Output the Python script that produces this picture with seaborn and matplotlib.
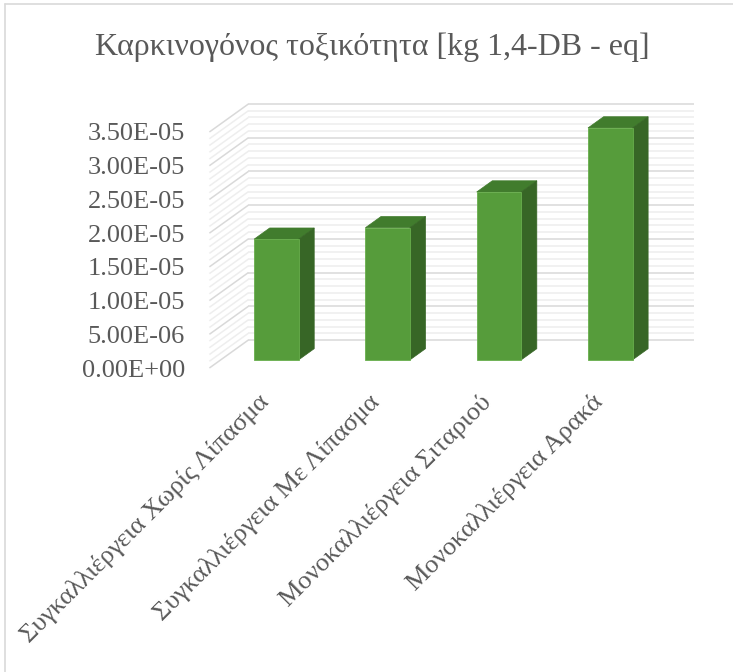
import numpy as np
import pandas as pd
import matplotlib
matplotlib.use("Agg")
import matplotlib.pyplot as plt
from matplotlib.patches import Polygon
from matplotlib.lines import Line2D
import seaborn as sns

# ---- data ----
categories = [
    "Συγκαλλιέργεια Χωρίς Λίπασμα",
    "Συγκαλλιέργεια Με Λίπασμα",
    "Μονοκαλλιέργεια Σιταριού",
    "Μονοκαλλιέργεια Αρακά",
]
values = [1.79e-5, 1.96e-5, 2.49e-5, 3.44e-5]
y_ticks = [0.0, 5e-6, 1e-5, 1.5e-5, 2e-5, 2.5e-5, 3e-5, 3.5e-5]
y_tick_labels = ["0.00E+00", "5.00E-06", "1.00E-05", "1.50E-05",
                 "2.00E-05", "2.50E-05", "3.00E-05", "3.50E-05"]
title = "Καρκινογόνος τοξικότητα [kg 1,4-DB - eq]"

# ---- style ----
sns.set_theme(style="white")
SERIF = ["Liberation Serif", "DejaVu Serif"]
plt.rcParams["font.family"] = SERIF
TEXT = "#595959"
FRONT = "#569C3B"
TOP = "#417C2D"
SIDE = "#376626"
GRID_MAJOR = "#D9D9D9"
GRID_MINOR = "#EEEEEE"

W, H = 733, 672
fig = plt.figure(figsize=(W / 100, H / 100), dpi=100)
ax_left, ax_right = 209.4, 654.6
ax_top, ax_bottom = 132.0, 368.0
ax = fig.add_axes([ax_left / W, 1 - ax_bottom / H,
                   (ax_right - ax_left) / W, (ax_bottom - ax_top) / H])

ymax = 3.5e-5
px_x = (ax_right - ax_left) / 4.0
px_y = (ax_bottom - ax_top) / ymax
# oblique depth of the plot box, converted to data units
DX = 39 / px_x
DY = 28 / px_y
bar_front = 0.29   # depth of bar front faces (fraction of box depth)
bar_depth = 0.40   # depth of each column

# ---- walls: side wall diagonals and back wall gridlines ----
minor_vals = np.arange(0, 36) * 1e-6
for i, v in enumerate(minor_vals):
    is_major = i % 5 == 0
    c = GRID_MAJOR if is_major else GRID_MINOR
    z = 1.2 if is_major else 1.0
    ax.plot([-0.5, -0.5 + DX], [v, v + DY], color=c, lw=1.1,
            clip_on=False, zorder=z, solid_capstyle="butt")
    ax.plot([-0.5 + DX, 3.5 + DX], [v + DY, v + DY], color=c, lw=1.1,
            clip_on=False, zorder=z, solid_capstyle="butt")

# ---- columns ----
df = pd.DataFrame({"category": categories, "value": values})
sns.barplot(data=df, x="category", y="value", width=0.4, color=FRONT,
            saturation=1, edgecolor="#68AE4C", linewidth=0.6, ax=ax, zorder=3)

f0, f1 = bar_front, bar_front + bar_depth
for patch in list(ax.patches):
    x0, w, h = patch.get_x(), patch.get_width(), patch.get_height()
    patch.set_xy((x0 + f0 * DX, f0 * DY))
    patch.set_clip_on(False)
    top = Polygon([(x0 + f0 * DX, h + f0 * DY), (x0 + w + f0 * DX, h + f0 * DY),
                   (x0 + w + f1 * DX, h + f1 * DY), (x0 + f1 * DX, h + f1 * DY)],
                  closed=True, facecolor=TOP, edgecolor=TOP, lw=0.5,
                  clip_on=False, zorder=2.9)
    side = Polygon([(x0 + w + f0 * DX, f0 * DY), (x0 + w + f0 * DX, h + f0 * DY),
                    (x0 + w + f1 * DX, h + f1 * DY), (x0 + w + f1 * DX, f1 * DY)],
                   closed=True, facecolor=SIDE, edgecolor=SIDE, lw=0.5,
                   clip_on=False, zorder=2.9)
    ax.add_patch(top)
    ax.add_patch(side)

# ---- axes ----
ax.set_xlim(-0.5, 3.5)
ax.set_ylim(0, ymax)
ax.set_xlabel("")
ax.set_ylabel("")
for s in ax.spines.values():
    s.set_visible(False)
ax.set_facecolor("none")
ax.set_yticks(y_ticks, y_tick_labels)
ax.tick_params(axis="y", length=0, pad=17.5, labelsize=19, labelcolor=TEXT)
ax.set_xticks(range(len(categories)), categories)
ax.tick_params(axis="x", length=0, pad=22, labelsize=19, labelcolor=TEXT)
for lab in ax.get_xticklabels() + ax.get_yticklabels():
    lab.set_family(SERIF)
for lab in ax.get_xticklabels():
    lab.set_rotation(45)
    lab.set_ha("right")
    lab.set_va("center")
    lab.set_rotation_mode("anchor")

# ---- title and chart border ----
fig.text(372 / W, 1 - 55 / H, title, ha="center", va="baseline",
         fontsize=23, color=TEXT, family=SERIF)
fig.add_artist(Line2D([4.5 / W, 4.5 / W], [0, 1 - 3.5 / H],
                      transform=fig.transFigure, color=GRID_MAJOR, lw=1.2))
fig.add_artist(Line2D([4.5 / W, 1], [1 - 3.5 / H, 1 - 3.5 / H],
                      transform=fig.transFigure, color=GRID_MAJOR, lw=1.2))

fig.savefig("out.png", dpi=100, facecolor="white")
